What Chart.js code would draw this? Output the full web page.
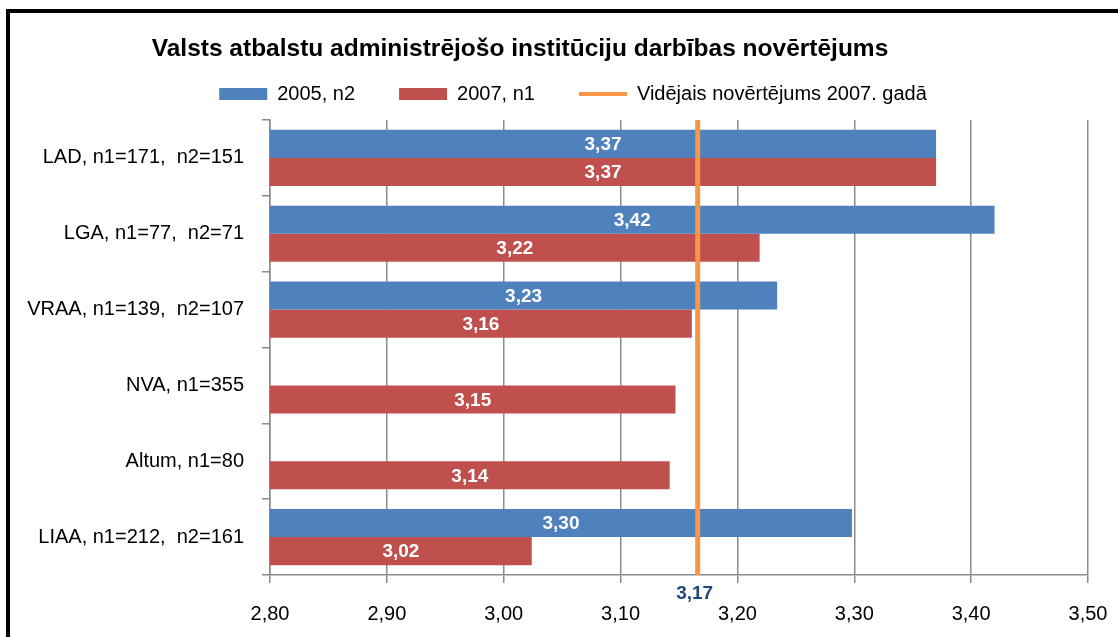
<!DOCTYPE html>
<html>
<head>
<meta charset="utf-8">
<script src="https://cdn.jsdelivr.net/npm/chart.js@4"></script>
<style>
    body { margin: 0; background: #fff; overflow: hidden; }
    #wrap { position: relative; width: 1118px; height: 637px; overflow: hidden; }
    #frame { position: absolute; left: 6px; top: 9px; width: 1200px; height: 700px; border: 4px solid #000; }
    #chart { position: absolute; left: 0; top: 0; }
</style>
</head>
<body>
<div id="wrap">
    <div id="frame"></div>
    <canvas id="chart" width="1118" height="637"></canvas>
</div>
<script>
const titleText = 'Valsts atbalstu administrējošo institūciju darbības novērtējums';
const categories = [
    'LAD, n1=171,  n2=151',
    'LGA, n1=77,  n2=71',
    'VRAA, n1=139,  n2=107',
    'NVA, n1=355',
    'Altum, n1=80',
    'LIAA, n1=212,  n2=161'
];
const seriesNames = ['2005, n2', '2007, n1'];
const values2005 = [3.37, 3.42, 3.234, null, null, 3.298];
const values2007 = [3.37, 3.219, 3.161, 3.147, 3.142, 3.024];
const avgLabel = 'Vidējais novērtējums 2007. gadā';
const avgValue = 3.166;
const xTicks = [2.8, 2.9, 3.0, 3.1, 3.2, 3.3, 3.4, 3.5];

const fontFamily = "'Liberation Sans', Arial, sans-serif";
const blue = '#4F81BD';
const red = '#C0504D';
const orange = '#F79646';
const gridColor = '#8c8c8c';
const legendShift = 22;

function fmt(v) {
    return v.toFixed(2).replace('.', ',');
}

// title drawn by hand so it can sit left of the legend centre like the original
const titlePlugin = {
    id: 'fixedTitle',
    afterLayout(chart) {
        // legend is a bit right of centre in the original
        chart.legend.left += legendShift;
        chart.legend.right += legendShift;
    },
    afterDraw(chart) {
        const ctx = chart.ctx;
        ctx.save();
        ctx.font = 'bold 24.5px ' + fontFamily;
        ctx.fillStyle = '#000';
        ctx.textAlign = 'center';
        ctx.textBaseline = 'middle';
        ctx.fillText(titleText, 520, 49);
        ctx.restore();
    }
};

// values written in the middle of each bar
const barLabels = {
    id: 'barValues',
    afterDatasetsDraw(chart) {
        const ctx = chart.ctx;
        const xScale = chart.scales.x;
        ctx.save();
        ctx.font = 'bold 19px ' + fontFamily;
        ctx.fillStyle = '#ffffff';
        ctx.textAlign = 'center';
        ctx.textBaseline = 'middle';
        chart.data.datasets.forEach((ds, i) => {
            const meta = chart.getDatasetMeta(i);
            meta.data.forEach((bar, j) => {
                const v = ds.data[j];
                if (v == null) return;
                const x0 = xScale.getPixelForValue(xScale.min);
                const x1 = xScale.getPixelForValue(v);
                ctx.fillText(fmt(v), (x0 + x1) / 2, bar.y + 1);
            });
        });
        ctx.restore();
    }
};

// orange average line with its value under the axis
const avgLine = {
    id: 'avgLine',
    afterDatasetsDraw(chart) {
        const ctx = chart.ctx;
        const area = chart.chartArea;
        const x = chart.scales.x.getPixelForValue(avgValue);
        ctx.save();
        ctx.strokeStyle = orange;
        ctx.lineWidth = 5;
        ctx.beginPath();
        ctx.moveTo(x, area.top);
        ctx.lineTo(x, area.bottom);
        ctx.stroke();
        ctx.restore();
    },
    afterDraw(chart) {
        const ctx = chart.ctx;
        const x = chart.scales.x.getPixelForValue(avgValue);
        ctx.save();
        ctx.font = 'bold 19px ' + fontFamily;
        ctx.fillStyle = '#1F497D';
        ctx.textAlign = 'center';
        ctx.textBaseline = 'middle';
        ctx.fillText(fmt(avgValue), x - 3, chart.chartArea.bottom + 19);
        ctx.restore();
    }
};

new Chart(document.getElementById('chart'), {
    type: 'bar',
    data: {
        labels: categories,
        datasets: [
            { label: seriesNames[0], data: values2005, backgroundColor: blue },
            { label: seriesNames[1], data: values2007, backgroundColor: red }
        ]
    },
    options: {
        indexAxis: 'y',
        responsive: false,
        animation: false,
        categoryPercentage: 0.74,
        barPercentage: 1,
        layout: { padding: { left: 14, right: 30, top: 40, bottom: 0 } },
        scales: {
            x: {
                min: xTicks[0],
                max: xTicks[xTicks.length - 1],
                afterBuildTicks(scale) {
                    scale.ticks = xTicks.map(v => ({ value: v }));
                },
                afterFit(scale) {
                    scale.height = 62;
                    scale.paddingRight = 0;
                },
                ticks: {
                    color: '#000',
                    padding: 19,
                    font: { family: fontFamily, size: 20 },
                    callback: v => fmt(v)
                },
                grid: { color: gridColor, lineWidth: 1.5, tickLength: 8 },
                border: { color: gridColor, width: 1.5 }
            },
            y: {
                afterFit(scale) { scale.width = 256; },
                ticks: {
                    color: '#000',
                    padding: 18,
                    font: { family: fontFamily, size: 20 }
                },
                grid: { color: gridColor, lineWidth: 1.5, drawOnChartArea: false, tickLength: 8 },
                border: { color: gridColor, width: 1.5 }
            }
        },
        plugins: {
            // empty title only keeps a small gap under the legend
            title: { display: true, text: '', position: 'top', weight: 500, padding: 0, font: { size: 6, lineHeight: 1 } },
            tooltip: { enabled: false },
            legend: {
                position: 'top',
                labels: {
                    color: '#000',
                    font: { family: fontFamily, size: 20 },
                    padding: 44,
                    usePointStyle: true,
                    pointStyleWidth: 48,
                    boxHeight: 12,
                    generateLabels(chart) {
                        const items = Chart.defaults.plugins.legend.labels.generateLabels(chart);
                        items.forEach(it => { it.pointStyle = 'rect'; it.lineWidth = 0; });
                        items.push({
                            text: avgLabel,
                            fillStyle: orange,
                            strokeStyle: orange,
                            lineWidth: 4,
                            pointStyle: 'line',
                            hidden: false
                        });
                        return items;
                    }
                }
            }
        }
    },
    plugins: [titlePlugin, barLabels, avgLine]
});
</script>
</body>
</html>
